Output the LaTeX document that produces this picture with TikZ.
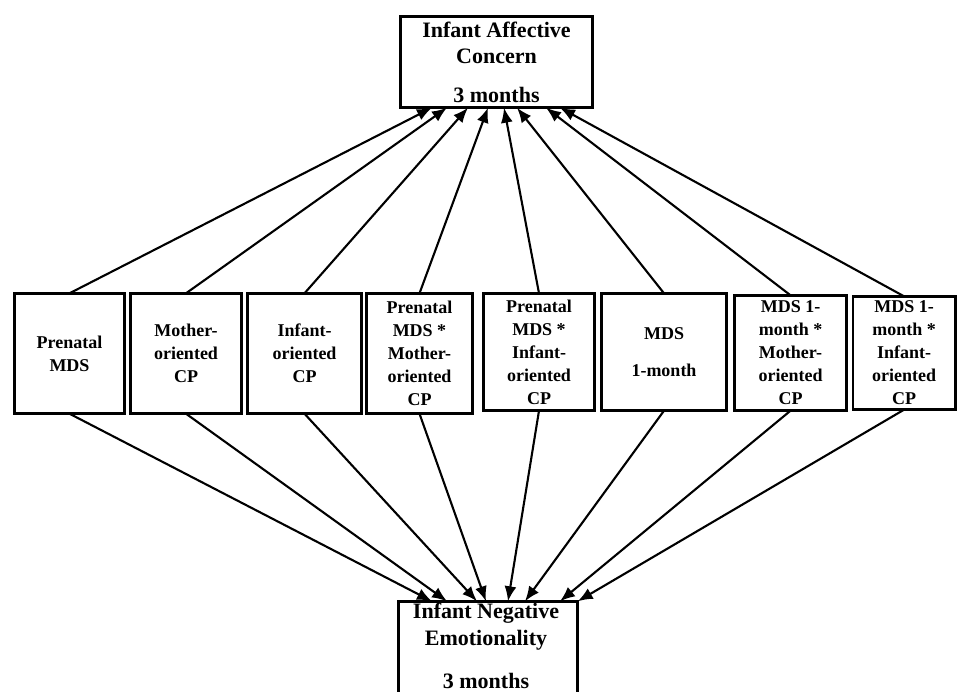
\documentclass[tikz,border=0pt]{standalone}
\usepackage{fontspec}
\setmainfont{Liberation Serif}
\usetikzlibrary{arrows.meta,calc}
\begin{document}
\begin{tikzpicture}[x=1pt,y=-1pt,
  box/.style={draw, line width=2.6pt, align=center, inner sep=0pt, outer sep=0pt,
    font=\fontsize{18}{23}\selectfont\bfseries},
  bigbox/.style={draw, line width=2.6pt, align=center, inner sep=0pt, outer sep=0pt,
    font=\fontsize{22}{26}\selectfont\bfseries},
  bigtext/.style={align=center, inner sep=0pt, outer sep=0pt,
    font=\fontsize{22}{27}\selectfont\bfseries},
  arr/.style={line width=2.1pt, -{Latex[length=15pt,width=12pt]}}]
\useasboundingbox (0,0) rectangle (957,692);

% top box
\node[bigbox, minimum width=192.4pt, minimum height=91.4pt] (top) at (496.5,62)
  {Infant Affective\\Concern\\[13pt]3 months};

% middle boxes
\node[box, minimum width=110.4pt, minimum height=120.4pt] (b1) at (69.5,353.5) {Prenatal\\MDS};
\node[box, minimum width=111.4pt, minimum height=120.4pt] (b2) at (186,353.5) {Mother-\\oriented\\CP};
\node[box, minimum width=114.4pt, minimum height=120.4pt] (b3) at (304.5,353.5) {Infant-\\oriented\\CP};
\node[box, minimum width=106.4pt, minimum height=120.4pt] (b4) at (419.5,353.5) {Prenatal\\MDS *\\Mother-\\oriented\\CP};
\node[box, minimum width=111.4pt, minimum height=117.4pt] (b5) at (539,352) {Prenatal\\MDS *\\Infant-\\oriented\\CP};
\node[box, minimum width=125.4pt, minimum height=117.4pt] (b6) at (664,352) {MDS\\[14pt]1-month};
\node[box, minimum width=112.4pt, minimum height=115.4pt] (b7) at (790.5,353) {MDS 1-\\month *\\Mother-\\oriented\\CP};
\node[box, minimum width=102.4pt, minimum height=113.4pt] (b8) at (904,353) {MDS 1-\\month *\\Infant-\\oriented\\CP};

% bottom box (cut off by the page edge)
\node[bigbox, anchor=north, minimum width=179.4pt, minimum height=130pt] (bot) at (488,601.3) {};
\node[bigtext, anchor=north] (bottext) at (486,602.8) {Infant Negative\\Emotionality\\[16pt]3 months};

% arrows to top
\foreach \b/\o in {b1/31.7, b2/46.7, b3/67.7, b4/87.7, b5/103.7, b6/116.7, b7/145.7, b8/159.7}
  \draw[arr] (\b.north) -- ([xshift=\o pt]top.south west);

% arrows to bottom
\foreach \b/\o in {b1/33.7, b2/48.7, b3/78.7, b4/87.7, b5/109.7, b6/126.7, b7/161.7}
  \draw[arr] (\b.south) -- ([xshift=\o pt]bot.north west);
\draw[arr] (b8.south) -- (bot.north east);
\end{tikzpicture}
\end{document}
